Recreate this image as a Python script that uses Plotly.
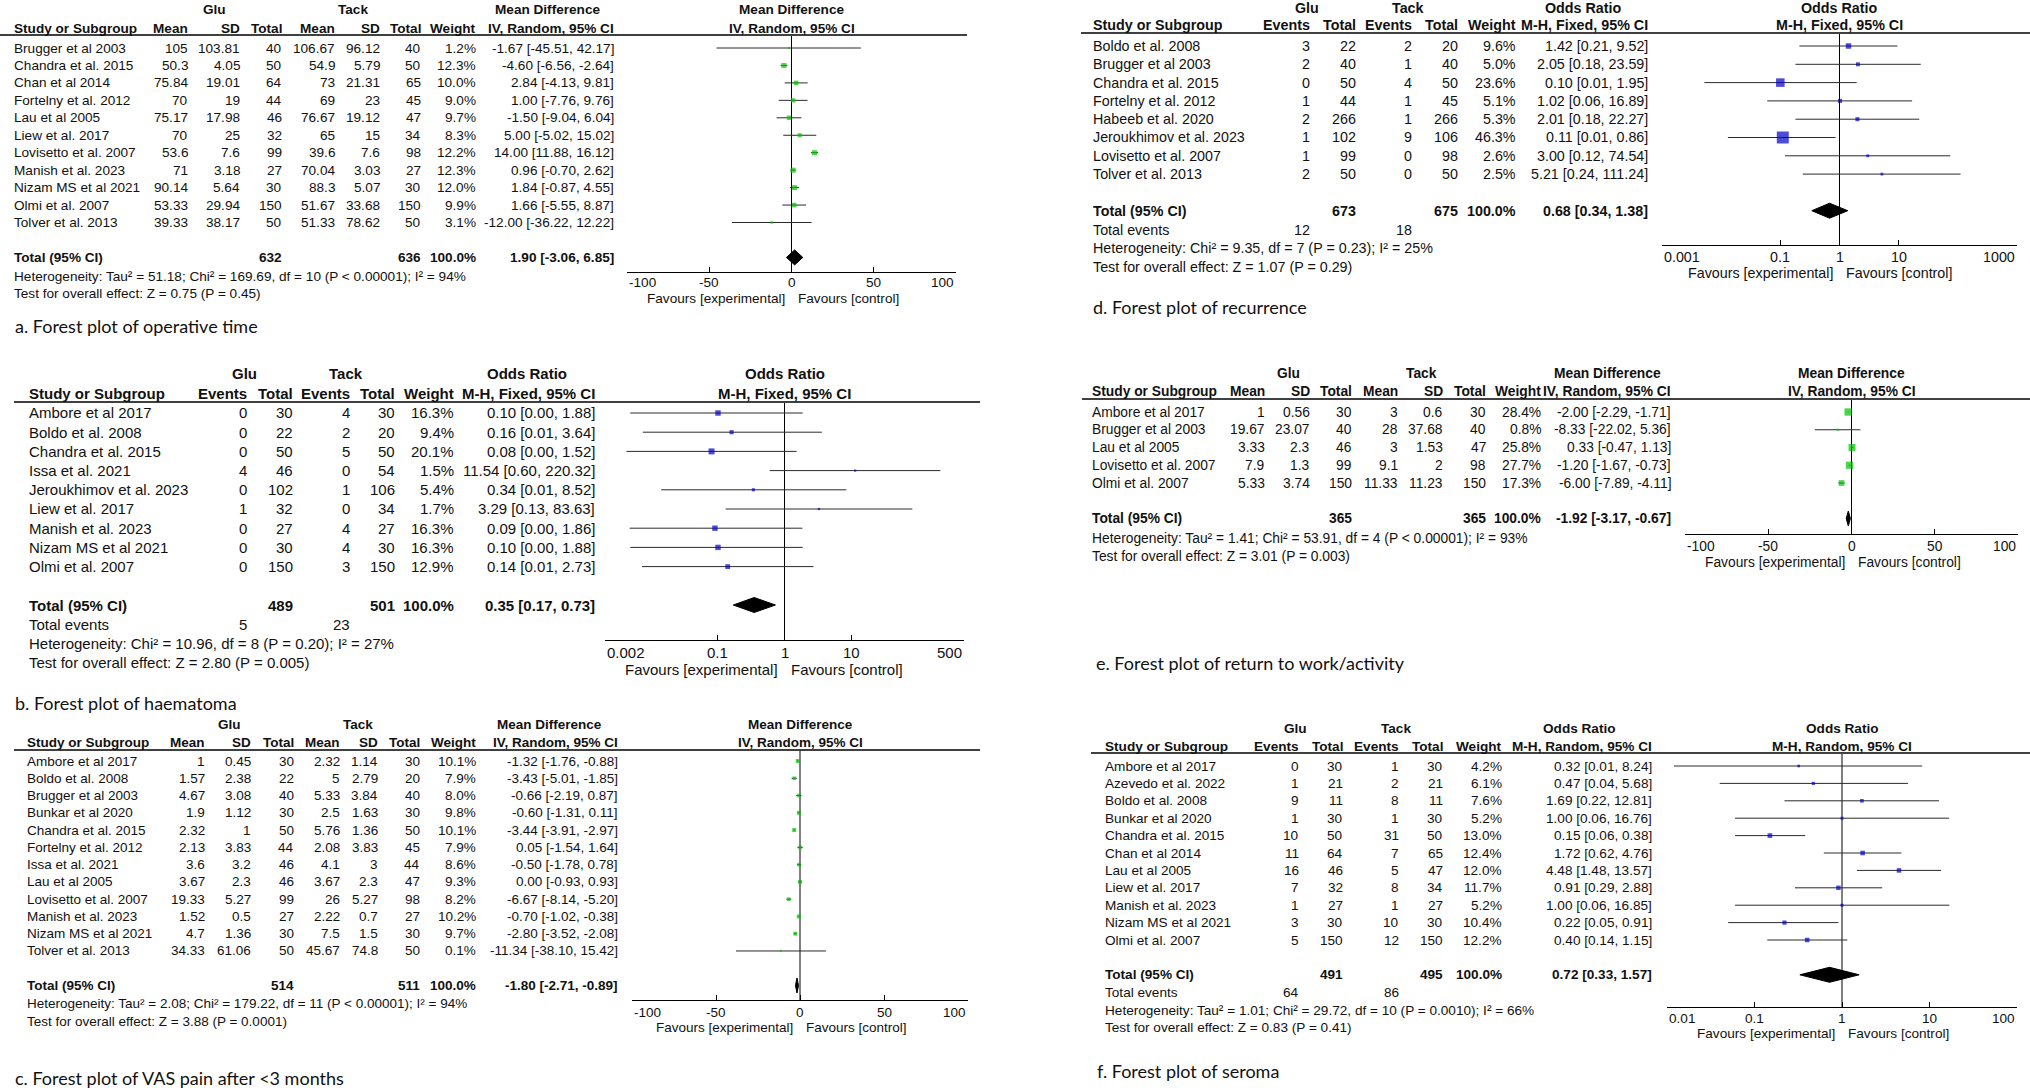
import math
import plotly.graph_objects as go

W, H = 2030, 1090

# ---------------- data ----------------
# a. operative time (mean difference)
a_study = ["Brugger et al 2003", "Chandra et al. 2015", "Chan et al 2014", "Fortelny et al. 2012",
           "Lau et al 2005", "Liew et al. 2017", "Lovisetto et al. 2007", "Manish et al. 2023",
           "Nizam MS et al 2021", "Olmi et al. 2007", "Tolver et al. 2013"]
a_glu_mean = [105, 50.3, 75.84, 70, 75.17, 70, 53.6, 71, 90.14, 53.33, 39.33]
a_glu_sd = [103.81, 4.05, 19.01, 19, 17.98, 25, 7.6, 3.18, 5.64, 29.94, 38.17]
a_glu_n = [40, 50, 64, 44, 46, 32, 99, 27, 30, 150, 50]
a_tack_mean = [106.67, 54.9, 73, 69, 76.67, 65, 39.6, 70.04, 88.3, 51.67, 51.33]
a_tack_sd = [96.12, 5.79, 21.31, 23, 19.12, 15, 7.6, 3.03, 5.07, 33.68, 78.62]
a_tack_n = [40, 50, 65, 45, 47, 34, 98, 27, 30, 150, 50]
a_weight = [1.2, 12.3, 10.0, 9.0, 9.7, 8.3, 12.2, 12.3, 12.0, 9.9, 3.1]
a_est = [-1.67, -4.60, 2.84, 1.00, -1.50, 5.00, 14.00, 0.96, 1.84, 1.66, -12.00]
a_lo = [-45.51, -6.56, -4.13, -7.76, -9.04, -5.02, 11.88, -0.70, -0.87, -5.55, -36.22]
a_hi = [42.17, -2.64, 9.81, 9.76, 6.04, 15.02, 16.12, 2.62, 4.55, 8.87, 12.22]
a_total = [632, 636]
a_total_eff = [1.90, -3.06, 6.85]
a_het = "Heterogeneity: Tau² = 51.18; Chi² = 169.69, df = 10 (P &lt; 0.00001); I² = 94%"
a_test = "Test for overall effect: Z = 0.75 (P = 0.45)"
a_caption = "a. Forest plot of operative time"

# b. haematoma (odds ratio)
b_study = ["Ambore et al 2017", "Boldo et al. 2008", "Chandra et al. 2015", "Issa et al. 2021",
           "Jeroukhimov et al. 2023", "Liew et al. 2017", "Manish et al. 2023", "Nizam MS et al 2021",
           "Olmi et al. 2007"]
b_glu_ev = [0, 0, 0, 4, 0, 1, 0, 0, 0]
b_glu_n = [30, 22, 50, 46, 102, 32, 27, 30, 150]
b_tack_ev = [4, 2, 5, 0, 1, 0, 4, 4, 3]
b_tack_n = [30, 20, 50, 54, 106, 34, 27, 30, 150]
b_weight = [16.3, 9.4, 20.1, 1.5, 5.4, 1.7, 16.3, 16.3, 12.9]
b_est = [0.10, 0.16, 0.08, 11.54, 0.34, 3.29, 0.09, 0.10, 0.14]
b_lo = [0.0048, 0.0074, 0.0042, 0.60, 0.014, 0.13, 0.0047, 0.0048, 0.0072]
b_hi = [1.88, 3.64, 1.52, 220.32, 8.52, 83.63, 1.86, 1.88, 2.73]
b_total = [489, 501]
b_total_events = [5, 23]
b_total_eff = [0.35, 0.17, 0.73]
b_het = "Heterogeneity: Chi² = 10.96, df = 8 (P = 0.20); I² = 27%"
b_test = "Test for overall effect: Z = 2.80 (P = 0.005)"
b_caption = "b. Forest plot of haematoma"

# c. VAS pain after <3 months (mean difference)
c_study = ["Ambore et al 2017", "Boldo et al. 2008", "Brugger et al 2003", "Bunkar et al 2020",
           "Chandra et al. 2015", "Fortelny et al. 2012", "Issa et al. 2021", "Lau et al 2005",
           "Lovisetto et al. 2007", "Manish et al. 2023", "Nizam MS et al 2021", "Tolver et al. 2013"]
c_glu_mean = [1, 1.57, 4.67, 1.9, 2.32, 2.13, 3.6, 3.67, 19.33, 1.52, 4.7, 34.33]
c_glu_sd = [0.45, 2.38, 3.08, 1.12, 1, 3.83, 3.2, 2.3, 5.27, 0.5, 1.36, 61.06]
c_glu_n = [30, 22, 40, 30, 50, 44, 46, 46, 99, 27, 30, 50]
c_tack_mean = [2.32, 5, 5.33, 2.5, 5.76, 2.08, 4.1, 3.67, 26, 2.22, 7.5, 45.67]
c_tack_sd = [1.14, 2.79, 3.84, 1.63, 1.36, 3.83, 3, 2.3, 5.27, 0.7, 1.5, 74.8]
c_tack_n = [30, 20, 40, 30, 50, 45, 44, 47, 98, 27, 30, 50]
c_weight = [10.1, 7.9, 8.0, 9.8, 10.1, 7.9, 8.6, 9.3, 8.2, 10.2, 9.7, 0.1]
c_est = [-1.32, -3.43, -0.66, -0.60, -3.44, 0.05, -0.50, 0.00, -6.67, -0.70, -2.80, -11.34]
c_lo = [-1.76, -5.01, -2.19, -1.31, -3.91, -1.54, -1.78, -0.93, -8.14, -1.02, -3.52, -38.10]
c_hi = [-0.88, -1.85, 0.87, 0.11, -2.97, 1.64, 0.78, 0.93, -5.20, -0.38, -2.08, 15.42]
c_total = [514, 511]
c_total_eff = [-1.80, -2.71, -0.89]
c_het = "Heterogeneity: Tau² = 2.08; Chi² = 179.22, df = 11 (P &lt; 0.00001); I² = 94%"
c_test = "Test for overall effect: Z = 3.88 (P = 0.0001)"
c_caption = "c. Forest plot of VAS pain after &lt;3 months"

# d. recurrence (odds ratio)
d_study = ["Boldo et al. 2008", "Brugger et al 2003", "Chandra et al. 2015", "Fortelny et al. 2012",
           "Habeeb et al. 2020", "Jeroukhimov et al. 2023", "Lovisetto et al. 2007", "Tolver et al. 2013"]
d_glu_ev = [3, 2, 0, 1, 2, 1, 1, 2]
d_glu_n = [22, 40, 50, 44, 266, 102, 99, 50]
d_tack_ev = [2, 1, 4, 1, 1, 9, 0, 0]
d_tack_n = [20, 40, 50, 45, 266, 106, 98, 50]
d_weight = [9.6, 5.0, 23.6, 5.1, 5.3, 46.3, 2.6, 2.5]
d_est = [1.42, 2.05, 0.10, 1.02, 2.01, 0.11, 3.00, 5.21]
d_lo = [0.21, 0.18, 0.0052, 0.06, 0.18, 0.013, 0.12, 0.24]
d_hi = [9.52, 23.59, 1.95, 16.89, 22.27, 0.86, 74.54, 111.24]
d_total = [673, 675]
d_total_events = [12, 18]
d_total_eff = [0.68, 0.34, 1.38]
d_het = "Heterogeneity: Chi² = 9.35, df = 7 (P = 0.23); I² = 25%"
d_test = "Test for overall effect: Z = 1.07 (P = 0.29)"
d_caption = "d. Forest plot of recurrence"

# e. return to work/activity (mean difference)
e_study = ["Ambore et al 2017", "Brugger et al 2003", "Lau et al 2005", "Lovisetto et al. 2007", "Olmi et al. 2007"]
e_glu_mean = [1, 19.67, 3.33, 7.9, 5.33]
e_glu_sd = [0.56, 23.07, 2.3, 1.3, 3.74]
e_glu_n = [30, 40, 46, 99, 150]
e_tack_mean = [3, 28, 3, 9.1, 11.33]
e_tack_sd = [0.6, 37.68, 1.53, 2, 11.23]
e_tack_n = [30, 40, 47, 98, 150]
e_weight = [28.4, 0.8, 25.8, 27.7, 17.3]
e_est = [-2.00, -8.33, 0.33, -1.20, -6.00]
e_lo = [-2.29, -22.02, -0.47, -1.67, -7.89]
e_hi = [-1.71, 5.36, 1.13, -0.73, -4.11]
e_total = [365, 365]
e_total_eff = [-1.92, -3.17, -0.67]
e_het = "Heterogeneity: Tau² = 1.41; Chi² = 53.91, df = 4 (P &lt; 0.00001); I² = 93%"
e_test = "Test for overall effect: Z = 3.01 (P = 0.003)"
e_caption = "e. Forest plot of return to work/activity"

# f. seroma (odds ratio)
f_study = ["Ambore et al 2017", "Azevedo et al. 2022", "Boldo et al. 2008", "Bunkar et al 2020",
           "Chandra et al. 2015", "Chan et al 2014", "Lau et al 2005", "Liew et al. 2017",
           "Manish et al. 2023", "Nizam MS et al 2021", "Olmi et al. 2007"]
f_glu_ev = [0, 1, 9, 1, 10, 11, 16, 7, 1, 3, 5]
f_glu_n = [30, 21, 11, 30, 50, 64, 46, 32, 27, 30, 150]
f_tack_ev = [1, 2, 8, 1, 31, 7, 5, 8, 1, 10, 12]
f_tack_n = [30, 21, 11, 30, 50, 65, 47, 34, 27, 30, 150]
f_weight = [4.2, 6.1, 7.6, 5.2, 13.0, 12.4, 12.0, 11.7, 5.2, 10.4, 12.2]
f_est = [0.32, 0.47, 1.69, 1.00, 0.15, 1.72, 4.48, 0.91, 1.00, 0.22, 0.40]
f_lo = [0.012, 0.04, 0.22, 0.06, 0.06, 0.62, 1.48, 0.29, 0.06, 0.05, 0.14]
f_hi = [8.24, 5.68, 12.81, 16.76, 0.38, 4.76, 13.57, 2.88, 16.85, 0.91, 1.15]
f_total = [491, 495]
f_total_events = [64, 86]
f_total_eff = [0.72, 0.33, 1.57]
f_het = "Heterogeneity: Tau² = 1.01; Chi² = 29.72, df = 10 (P = 0.0010); I² = 66%"
f_test = "Test for overall effect: Z = 0.83 (P = 0.41)"
f_caption = "f. Forest plot of seroma"

md_ticks = [-100, -50, 0, 50, 100]
b_ticks = [0.002, 0.1, 1, 10, 500]
d_ticks = [0.001, 0.1, 1, 10, 1000]
f_ticks = [0.01, 0.1, 1, 10, 100]

# ---------------- styles / layout geometry (pixels) ----------------
GREEN = "#00c400"
BLUE = "#0000c8"
TXT = "#111111"
TFONT = "Liberation Sans Narrow, Arial Narrow, Liberation Sans, Arial, sans-serif"
CFONT = "Lato, Open Sans, sans-serif"

panels = [
    dict(kind="md", study=a_study, c1=a_glu_mean, c2=a_glu_sd, c3=a_glu_n, c4=a_tack_mean, c5=a_tack_sd, c6=a_tack_n,
         w=a_weight, est=a_est, lo=a_lo, hi=a_hi, tot=a_total, tot_eff=a_total_eff, ev=None,
         het=a_het, test=a_test, caption=a_caption, eff1="Mean Difference", eff2="IV, Random, 95% CI",
         log=False, ticks=md_ticks, color=GREEN, k=1.43,
         g=dict(row0=48, sp=17.45, h1=10, h2=28, line=35, lx0=0, lx1=967, axis=272, tick=283, fav=299,
                evy=None, het=276, test=293, cx=13, cy=326, left=12,
                cols=[190, 242, 284, 337, 382, 423, 478, 616], glu=214, tack=353, effc=547, fx0=627, fx1=956)),
    dict(kind="or", study=b_study, c1=b_glu_ev, c2=b_glu_n, c3=b_tack_ev, c4=b_tack_n,
         w=b_weight, est=b_est, lo=b_lo, hi=b_hi, tot=b_total, tot_eff=b_total_eff, ev=b_total_events,
         het=b_het, test=b_test, caption=b_caption, eff1="Odds Ratio", eff2="M-H, Fixed, 95% CI",
         log=True, ticks=b_ticks, color=BLUE, k=1.34,
         g=dict(row0=413, sp=19.2, h1=373, h2=393, line=402, lx0=14, lx1=980, axis=640, tick=652, fav=669,
                evy=624, het=643, test=662, cx=13, cy=703, left=27,
                cols=[249, 295, 352, 397, 456, 597], glu=244, tack=346, effc=527, fx0=605, fx1=964)),
    dict(kind="md", study=c_study, c1=c_glu_mean, c2=c_glu_sd, c3=c_glu_n, c4=c_tack_mean, c5=c_tack_sd, c6=c_tack_n,
         w=c_weight, est=c_est, lo=c_lo, hi=c_hi, tot=c_total, tot_eff=c_total_eff, ev=None,
         het=c_het, test=c_test, caption=c_caption, eff1="Mean Difference", eff2="IV, Random, 95% CI",
         log=False, ticks=md_ticks, color=GREEN, k=1.25,
         g=dict(row0=761, sp=17.27, h1=724, h2=742, line=750, lx0=14, lx1=980, axis=1000, tick=1012, fav=1027,
                evy=None, het=1003, test=1021, cx=13, cy=1078, left=25,
                cols=[207, 253, 296, 342, 380, 422, 478, 620], glu=229, tack=358, effc=549, fx0=632, fx1=968)),
    dict(kind="or", study=d_study, c1=d_glu_ev, c2=d_glu_n, c3=d_tack_ev, c4=d_tack_n,
         w=d_weight, est=d_est, lo=d_lo, hi=d_hi, tot=d_total, tot_eff=d_total_eff, ev=d_total_events,
         het=d_het, test=d_test, caption=d_caption, eff1="Odds Ratio", eff2="M-H, Fixed, 95% CI",
         log=True, ticks=d_ticks, color=BLUE, k=1.76,
         g=dict(row0=46, sp=18.3, h1=8, h2=25, line=33, lx0=1081, lx1=2030, axis=245, tick=257, fav=273,
                evy=230, het=248, test=267, cx=1091, cy=307, left=1091,
                cols=[1312, 1358, 1414, 1460, 1518, 1650], glu=1307, tack=1408, effc=1583, fx0=1662, fx1=2017)),
    dict(kind="md", study=e_study, c1=e_glu_mean, c2=e_glu_sd, c3=e_glu_n, c4=e_tack_mean, c5=e_tack_sd, c6=e_tack_n,
         w=e_weight, est=e_est, lo=e_lo, hi=e_hi, tot=e_total, tot_eff=e_total_eff, ev=None,
         het=e_het, test=e_test, caption=e_caption, eff1="Mean Difference", eff2="IV, Random, 95% CI",
         log=False, ticks=md_ticks, color=GREEN, k=1.38,
         g=dict(row0=412, sp=17.75, h1=373, h2=391, line=399, lx0=1082, lx1=2030, axis=534, tick=547, fav=562,
                evy=None, het=538, test=556, cx=1094, cy=663, left=1090,
                cols=[1267, 1312, 1354, 1400, 1445, 1488, 1543, 1673], glu=1288, tack=1421, effc=1607,
                fx0=1685, fx1=2018)),
    dict(kind="or", study=f_study, c1=f_glu_ev, c2=f_glu_n, c3=f_tack_ev, c4=f_tack_n,
         w=f_weight, est=f_est, lo=f_lo, hi=f_hi, tot=f_total, tot_eff=f_total_eff, ev=f_total_events,
         het=f_het, test=f_test, caption=f_caption, eff1="Odds Ratio", eff2="M-H, Random, 95% CI",
         log=True, ticks=f_ticks, color=BLUE, k=1.3,
         g=dict(row0=766, sp=17.4, h1=728, h2=746, line=753, lx0=1091, lx1=2030, axis=1007, tick=1018, fav=1033,
                evy=992, het=1010, test=1027, cx=1095, cy=1071, left=1103,
                cols=[1301, 1345, 1401, 1445, 1504, 1654], glu=1295, tack=1396, effc=1579, fx0=1667, fx1=2017)),
]


def fnum(v):
    return f"{v:g}"


def fci(e, l, h):
    return f"{e:.2f} [{l:.2f}, {h:.2f}]"


fig = go.Figure()
annotations = []
shapes = []


def ann(text, x, y, xref="paper", yref="paper", xanchor="left", size=13, bold=False,
        family=TFONT, xshift=0):
    annotations.append(dict(text=f"<b>{text}</b>" if bold else text, x=x, y=y, xref=xref, yref=yref,
                            xanchor=xanchor, yanchor="middle", showarrow=False, xshift=xshift,
                            font=dict(family=family, size=size, color=TXT)))


def px_x(px):
    return px / W


def px_y(py):
    return 1 - py / H


for p, P in enumerate(panels):
    g = P["g"]
    sfx = "" if p == 0 else str(p + 1)
    xref, yref = "x" + sfx, "y" + sfx
    n = len(P["study"])
    sp, r0 = g["sp"], g["row0"]
    fs = round(sp * 0.78, 1)
    ybot = (g["axis"] - r0) / sp
    ytop = (g["line"] - r0) / sp
    if P["log"]:
        xr = [math.log10(P["ticks"][0]), math.log10(P["ticks"][-1])]
        null = 1
    else:
        xr = [P["ticks"][0], P["ticks"][-1]]
        null = 0

    fig.update_layout({
        "xaxis" + sfx: dict(domain=[px_x(g["fx0"]), px_x(g["fx1"])], range=xr, type="log" if P["log"] else "linear",
                            anchor=yref, showline=True, linecolor="black", linewidth=1.4, ticks="inside",
                            ticklen=5, tickwidth=1, tickcolor="black", tickvals=P["ticks"],
                            showticklabels=False, showgrid=False, zeroline=False, fixedrange=True),
        "yaxis" + sfx: dict(domain=[px_y(g["axis"]), px_y(g["line"])], range=[ybot, ytop], anchor=xref,
                            visible=False, showgrid=False, zeroline=False, fixedrange=True),
    })

    # null line
    fig.add_trace(go.Scatter(x=[null, null], y=[ytop, ybot], mode="lines", line=dict(color="black", width=1),
                             xaxis=xref, yaxis=yref, hoverinfo="skip"))
    # CI lines
    xs, ys = [], []
    for i in range(n):
        xs += [P["lo"][i], P["hi"][i], None]
        ys += [i, i, None]
    fig.add_trace(go.Scatter(x=xs, y=ys, mode="lines", line=dict(color="#2a2a2a", width=1),
                             xaxis=xref, yaxis=yref, hoverinfo="skip"))
    # weighted squares
    sizes = [max(2.2, P["k"] * math.sqrt(wv)) for wv in P["w"]]
    fig.add_trace(go.Scatter(x=P["est"], y=list(range(n)), mode="markers",
                             marker=dict(symbol="square", size=sizes, color=P["color"], line=dict(width=0)),
                             xaxis=xref, yaxis=yref, hoverinfo="skip"))
    # pooled diamond
    te, tl, th = P["tot_eff"]
    trow = n + 1
    hh = 7.5 / sp
    fig.add_trace(go.Scatter(x=[tl, te, th, te, tl], y=[trow, trow - hh, trow, trow + hh, trow], mode="lines",
                             fill="toself", fillcolor="black", line=dict(color="black", width=1),
                             xaxis=xref, yaxis=yref, hoverinfo="skip"))

    # header line
    shapes.append(dict(type="line", xref="paper", yref="paper", x0=px_x(g["lx0"]), x1=px_x(g["lx1"]),
                       y0=px_y(g["line"]), y1=px_y(g["line"]), line=dict(color="#404040", width=2)))

    # headers
    cols = g["cols"]
    if P["kind"] == "md":
        hdr = ["Mean", "SD", "Total", "Mean", "SD", "Total", "Weight", P["eff2"]]
    else:
        hdr = ["Events", "Total", "Events", "Total", "Weight", P["eff2"]]
    ann("Glu", px_x(g["glu"]), px_y(g["h1"]), xanchor="center", size=fs, bold=True)
    ann("Tack", px_x(g["tack"]), px_y(g["h1"]), xanchor="center", size=fs, bold=True)
    ann(P["eff1"], px_x(g["effc"]), px_y(g["h1"]), xanchor="center", size=fs, bold=True)
    ann("Study or Subgroup", px_x(g["left"]), px_y(g["h2"]), size=fs, bold=True)
    for cx, h in zip(cols, hdr):
        ann(h, px_x(cx), px_y(g["h2"]), xanchor="right", size=fs, bold=True)
    fc = (g["fx0"] + g["fx1"]) / 2
    ann(P["eff1"], px_x(fc), px_y(g["h1"]), xanchor="center", size=fs, bold=True)
    ann(P["eff2"], px_x(fc), px_y(g["h2"]), xanchor="center", size=fs, bold=True)

    # study rows
    for i in range(n):
        ann(P["study"][i], px_x(g["left"]), i, yref=yref, size=fs)
        if P["kind"] == "md":
            vals = [fnum(P["c1"][i]), fnum(P["c2"][i]), fnum(P["c3"][i]), fnum(P["c4"][i]),
                    fnum(P["c5"][i]), fnum(P["c6"][i])]
        else:
            vals = [fnum(P["c1"][i]), fnum(P["c2"][i]), fnum(P["c3"][i]), fnum(P["c4"][i])]
        vals += [f"{P['w'][i]:.1f}%", fci(P["est"][i], P["lo"][i], P["hi"][i])]
        for cx, v in zip(cols, vals):
            ann(v, px_x(cx), i, yref=yref, xanchor="right", size=fs)

    # total row
    ann("Total (95% CI)", px_x(g["left"]), trow, yref=yref, size=fs, bold=True)
    if P["kind"] == "md":
        gcol, tcol = cols[2], cols[5]
    else:
        gcol, tcol = cols[1], cols[3]
    ann(str(P["tot"][0]), px_x(gcol), trow, yref=yref, xanchor="right", size=fs, bold=True)
    ann(str(P["tot"][1]), px_x(tcol), trow, yref=yref, xanchor="right", size=fs, bold=True)
    ann("100.0%", px_x(cols[-2]), trow, yref=yref, xanchor="right", size=fs, bold=True)
    ann(fci(te, tl, th), px_x(cols[-1]), trow, yref=yref, xanchor="right", size=fs, bold=True)

    if P["ev"] is not None:
        ann("Total events", px_x(g["left"]), px_y(g["evy"]), size=fs)
        ann(str(P["ev"][0]), px_x(cols[0]), px_y(g["evy"]), xanchor="right", size=fs)
        ann(str(P["ev"][1]), px_x(cols[2]), px_y(g["evy"]), xanchor="right", size=fs)
    ann(P["het"], px_x(g["left"]), px_y(g["het"]), size=fs)
    ann(P["test"], px_x(g["left"]), px_y(g["test"]), size=fs)

    # axis tick labels
    nt = len(P["ticks"])
    for j, tv in enumerate(P["ticks"]):
        xa = "left" if j == 0 else ("right" if j == nt - 1 else "center")
        xv = math.log10(tv) if P["log"] else tv
        ann(fnum(tv), xv, px_y(g["tick"]), xref=xref, xanchor=xa, size=fs)
    nv = math.log10(null) if P["log"] else null
    ann("Favours [experimental]", nv, px_y(g["fav"]), xref=xref, xanchor="right", size=fs, xshift=-5)
    ann("Favours [control]", nv, px_y(g["fav"]), xref=xref, xanchor="left", size=fs, xshift=4)

    # caption
    ann(P["caption"], px_x(g["cx"]), px_y(g["cy"]), size=18, family=CFONT)

fig.update_layout(width=W, height=H, margin=dict(l=0, r=0, t=0, b=0), paper_bgcolor="white",
                  plot_bgcolor="white", showlegend=False, annotations=annotations, shapes=shapes)

fig.write_html("out.html", config={"displayModeBar": False},
               post_script="document.body.style.margin='0px';document.body.style.overflow='hidden';")
